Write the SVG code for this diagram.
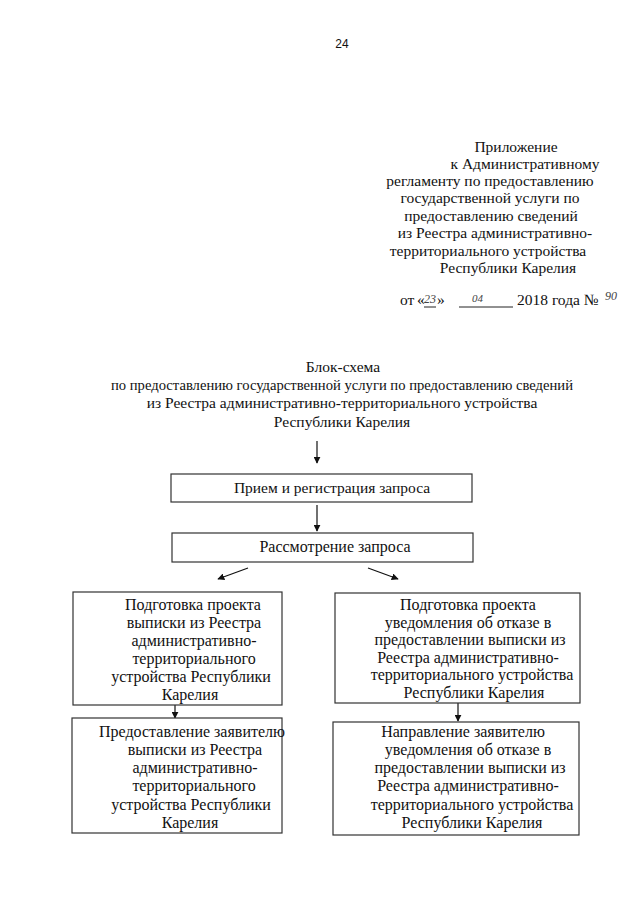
<svg xmlns="http://www.w3.org/2000/svg" width="640" height="905" viewBox="0 0 640 905">
<defs>
<marker id="ah" viewBox="0 0 10 10" refX="9" refY="5" markerWidth="7" markerHeight="7" orient="auto" markerUnits="userSpaceOnUse">
<path d="M0,0 L10,5 L0,10 z" fill="#111"/>
</marker>
<style>
.t{font-family:"Liberation Serif","Times New Roman",serif;font-size:16px;fill:#111}
.h{font-family:"Liberation Serif","Times New Roman",serif;font-size:15.5px;fill:#111}
.c{text-anchor:middle}
.hw{font-family:"Liberation Serif",serif;font-style:italic;font-size:13px;fill:#444}
.box{fill:#fff;stroke:#333;stroke-width:1.2}
.con{stroke:#111;stroke-width:1.2;fill:none;marker-end:url(#ah)}
.ul{stroke:#222;stroke-width:1}
</style>
</defs>
<rect width="640" height="905" fill="#fff"/>
<text x="342" y="48" text-anchor="middle" style="font-family:'Liberation Sans',Arial,sans-serif;font-size:12px;fill:#111">24</text>
<g id="header" class="h c">
<text x="516" y="152">Приложение</text>
<text x="525" y="169">к Административному</text>
<text x="490" y="186">регламенту по предоставлению</text>
<text x="490" y="203">государственной услуги по</text>
<text x="491" y="221">предоставлению сведений</text>
<text x="495" y="238">из Реестра административно-</text>
<text x="488" y="256">территориального устройства</text>
<text x="508" y="273">Республики Карелия</text>
</g>
<g id="date">
<text class="h" x="400" y="305">от</text>
<text class="h" x="417" y="305">«</text>
<line class="ul" x1="424" y1="307" x2="436" y2="307"/>
<text class="hw" x="424" y="303" style="font-size:12px">23</text>
<text class="h" x="437" y="305">»</text>
<line class="ul" x1="459" y1="307" x2="513" y2="307"/>
<text class="hw" x="472" y="302" style="font-size:11px">04</text>
<text class="h" x="517" y="305">2018 года №</text>
<text class="hw" x="605" y="300" style="font-size:12px">90</text>
</g>
<g id="title" class="h c">
<text x="343" y="372">Блок-схема</text>
<text x="342" y="390" textLength="462" lengthAdjust="spacingAndGlyphs">по предоставлению государственной услуги по предоставлению сведений</text>
<text x="342" y="408">из Реестра административно-территориального устройства</text>
<text x="342" y="427">Республики Карелия</text>
</g>
<g id="connectors">
<line class="con" x1="317" y1="441" x2="317" y2="463"/>
<line class="con" x1="317" y1="505" x2="317" y2="531"/>
<line class="con" x1="248" y1="568" x2="218" y2="579"/>
<line class="con" x1="368" y1="568" x2="398" y2="579"/>
<line class="con" x1="175" y1="705" x2="175" y2="718"/>
<line class="con" x1="458" y1="703" x2="458" y2="721"/>
</g>
<g id="n1">
<rect class="box" x="171" y="474" width="301" height="28"/>
<text class="h c" x="332" y="493">Прием и регистрация запроса</text>
</g>
<g id="n2">
<rect class="box" x="172" y="533" width="301" height="29"/>
<text class="t c" x="335" y="552">Рассмотрение запроса</text>
</g>
<g id="n3" class="t c">
<rect class="box" x="73" y="592" width="209" height="113"/>
<text x="193" y="610">Подготовка проекта</text>
<text x="194" y="628">выписки из Реестра</text>
<text x="194" y="646">административно-</text>
<text x="194" y="664">территориального</text>
<text x="191" y="682">устройства Республики</text>
<text x="190" y="700">Карелия</text>
</g>
<g id="n4" class="t c">
<rect class="box" x="72" y="718" width="210" height="115"/>
<text x="192" y="737">Предоставление заявителю</text>
<text x="195" y="755">выписки из Реестра</text>
<text x="195" y="773">административно-</text>
<text x="194" y="791">территориального</text>
<text x="191" y="810">устройства Республики</text>
<text x="190" y="828">Карелия</text>
</g>
<g id="n5" class="t c">
<rect class="box" x="335" y="593" width="245" height="110"/>
<text x="468" y="610">Подготовка проекта</text>
<text x="468" y="628">уведомления об отказе в</text>
<text x="470" y="645">предоставлении выписки из</text>
<text x="468" y="663">Реестра административно-</text>
<text x="472" y="680">территориального устройства</text>
<text x="474" y="698">Республики Карелия</text>
</g>
<g id="n6" class="t c">
<rect class="box" x="333" y="722" width="246" height="113"/>
<text x="463" y="737">Направление заявителю</text>
<text x="468" y="755">уведомления об отказе в</text>
<text x="470" y="773">предоставлении выписки из</text>
<text x="468" y="791">Реестра административно-</text>
<text x="472" y="810">территориального устройства</text>
<text x="472" y="828">Республики Карелия</text>
</g>
</svg>
